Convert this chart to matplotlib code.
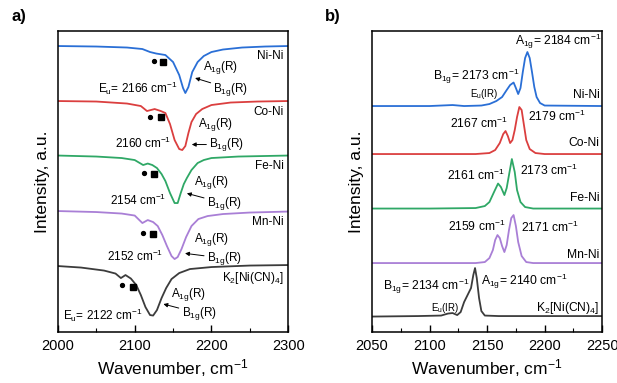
import matplotlib
matplotlib.use('Agg')
import matplotlib.pyplot as plt
import numpy as np

plt.rcParams['font.family'] = ['Liberation Sans', 'DejaVu Sans']
plt.rcParams['mathtext.fontset'] = 'custom'
plt.rcParams['mathtext.rm'] = 'Liberation Sans'
plt.rcParams['mathtext.default'] = 'regular'

colors_map = {
    'Ni-Ni': '#2a6fd6',
    'Co-Ni': '#db3f3f',
    'Fe-Ni': '#2fa866',
    'Mn-Ni': '#a97fd6',
    'K2': '#3c3c3c',
}

# ---- panel a) IR spectra (stacked, a.u.) ----
ir_ni_wn = [2000, 2050, 2090, 2110, 2120, 2128, 2140, 2150, 2158, 2163, 2166, 2170, 2175, 2182, 2190, 2200, 2215, 2240, 2270, 2300]
ir_ni = [285, 284.5, 283.5, 282, 279, 277.5, 276, 269, 256, 243, 238, 244, 259, 269, 275, 279, 281.5, 283.5, 284.5, 285]

ir_co_wn = [2000, 2050, 2090, 2108, 2116, 2121, 2126, 2134, 2140, 2146, 2152, 2158, 2162, 2166, 2170, 2174, 2180, 2188, 2200, 2225, 2260, 2300]
ir_co = [230, 229.5, 227.5, 225, 220, 221, 222, 220, 218, 207, 191, 182, 181, 185, 198, 209, 217, 222, 226, 228.5, 229.5, 230]

ir_fe_wn = [2000, 2050, 2083, 2100, 2111, 2117, 2123, 2129, 2135, 2140, 2146, 2152, 2156, 2160, 2164, 2168, 2174, 2182, 2190, 2200, 2235, 2300]
ir_fe = [175.5, 174.5, 173, 171, 166, 167.5, 166, 163, 157, 150, 138, 128, 128, 138, 147, 153, 161, 168, 171, 173, 174.5, 175.5]

ir_mn_wn = [2000, 2050, 2083, 2100, 2110, 2117, 2124, 2130, 2136, 2142, 2148, 2152, 2156, 2161, 2167, 2174, 2183, 2195, 2215, 2250, 2300]
ir_mn = [120, 119, 117.5, 115.5, 108, 111, 109, 105, 96, 85, 75, 72, 74, 82, 94, 105, 112, 115, 117, 118.5, 119.5]

ir_k_wn = [2000, 2030, 2060, 2075, 2082, 2088, 2095, 2102, 2108, 2114, 2120, 2124, 2129, 2135, 2141, 2148, 2158, 2172, 2200, 2250, 2300]
ir_k = [65, 63.5, 60.5, 57.5, 53, 56, 52.5, 46, 36, 24, 16, 15.5, 21, 33, 43, 52, 58, 62, 64, 65.5, 66]

# ---- panel b) Raman spectra (stacked, a.u.) ----
ra_ni_wn = [2050, 2100, 2120, 2130, 2145, 2152, 2158, 2163, 2167, 2170, 2173, 2175, 2177, 2179, 2181, 2183, 2185, 2187, 2189, 2191, 2193, 2196, 2200, 2250]
ra_ni = [225, 225, 226, 225, 225.5, 227, 230, 234, 241, 246, 248.5, 243, 237, 243, 259, 273, 279, 273, 259, 244, 234, 228, 225.5, 225]

ra_co_wn = [2050, 2100, 2140, 2152, 2157, 2161, 2164, 2166, 2168, 2170, 2172, 2174, 2176, 2178, 2180, 2182, 2184, 2187, 2192, 2200, 2250]
ra_co = [177, 177, 177, 178, 181, 188, 197, 200, 195, 188, 191, 201, 214, 224, 221, 206, 191, 182, 178, 177, 177]

ra_fe_wn = [2050, 2100, 2140, 2148, 2152, 2156, 2159.5, 2162, 2165, 2167, 2169, 2171.5, 2174, 2176, 2179, 2183, 2190, 2250]
ra_fe = [122.5, 122.5, 123, 125, 129, 139, 147.5, 144, 136, 143, 156, 172, 159, 141, 129, 124, 122.5, 122.5]

ra_mn_wn = [2050, 2100, 2140, 2148, 2152, 2155, 2157, 2159, 2161, 2163, 2165, 2167, 2169, 2171, 2173, 2175, 2177, 2180, 2184, 2190, 2250]
ra_mn = [68, 68, 68, 69, 73, 81, 91, 96, 93, 85, 79, 86, 101, 113, 116, 105, 89, 75, 69, 68, 68]

ra_k_wn = [2050, 2090, 2110, 2116, 2120, 2124, 2127, 2130, 2133, 2136, 2138, 2139.5, 2141, 2143, 2145, 2148, 2160, 2250]
ra_k = [14.5, 15, 15.5, 17.5, 18, 16, 19, 29, 36, 43, 56, 63, 53, 33, 20, 15.5, 15, 15]

fig = plt.figure(figsize=(6.17, 3.83), dpi=100)
ax1 = fig.add_axes([0.094, 0.133, 0.373, 0.786])
ax2 = fig.add_axes([0.603, 0.133, 0.373, 0.786])

lw = 1.3
ax1.plot(ir_ni_wn, ir_ni, color=colors_map['Ni-Ni'], lw=lw)
ax1.plot(ir_co_wn, ir_co, color=colors_map['Co-Ni'], lw=lw)
ax1.plot(ir_fe_wn, ir_fe, color=colors_map['Fe-Ni'], lw=lw)
ax1.plot(ir_mn_wn, ir_mn, color=colors_map['Mn-Ni'], lw=lw)
ax1.plot(ir_k_wn, ir_k, color=colors_map['K2'], lw=lw)

ax2.plot(ra_ni_wn, ra_ni, color=colors_map['Ni-Ni'], lw=lw)
ax2.plot(ra_co_wn, ra_co, color=colors_map['Co-Ni'], lw=lw)
ax2.plot(ra_fe_wn, ra_fe, color=colors_map['Fe-Ni'], lw=lw)
ax2.plot(ra_mn_wn, ra_mn, color=colors_map['Mn-Ni'], lw=lw)
ax2.plot(ra_k_wn, ra_k, color=colors_map['K2'], lw=lw)

for ax, lo, hi, major, minor in [(ax1, 2000, 2300, 100, 50), (ax2, 2050, 2250, 50, 25)]:
    ax.set_xlim(lo, hi)
    ax.set_ylim(-1, 300)
    ax.set_xticks(np.arange(lo, hi + 1, major))
    ax.set_xticks(np.arange(lo, hi + 1, minor), minor=True)
    ax.set_yticks([])
    ax.tick_params(axis='x', which='major', direction='in', length=5, width=1, labelsize=10.5, pad=5)
    ax.tick_params(axis='x', which='minor', direction='in', length=3, width=0.8)
    for s in ax.spines.values():
        s.set_linewidth(1.1)
    ax.set_xlabel('Wavenumber, cm$^{-1}$', fontsize=12.5, labelpad=3)
    ax.set_ylabel('Intensity, a.u.', fontsize=12.5, labelpad=6)

fig.text(0.018, 0.945, 'a)', fontsize=12, fontweight='bold')
fig.text(0.527, 0.945, 'b)', fontsize=12, fontweight='bold')

fs = 8.5
arrow = dict(arrowstyle='-|>', lw=0.7, color='black', mutation_scale=6, shrinkA=0, shrinkB=0)

# panel a) labels
right_labels = [(275, 'Ni-Ni'), (219, 'Co-Ni'), (165, 'Fe-Ni'), (109, 'Mn-Ni'), (53, 'K$_2$[Ni(CN)$_4$]')]
for y, t in right_labels:
    ax1.text(2294, y, t, fontsize=fs, ha='right', va='center')

dots = [(2125, 270), (2120, 213.7), (2112.6, 157.7), (2111, 97.7), (2083, 46)]
squares = [(2137, 269), (2134, 213.7), (2125.6, 157), (2124.3, 97), (2097.4, 44.3)]
for (dx, dy), (sx, sy) in zip(dots, squares):
    ax1.plot(dx, dy, 'o', color='black', ms=2.8)
    ax1.plot(sx, sy, 's', color='black', ms=3.8)

a1g = [(2189.5, 264), (2183, 206.7), (2177.8, 148.7), (2177.8, 91.7), (2147.4, 37)]
for x, y in a1g:
    ax1.text(x, y, 'A$_{1g}$(R)', fontsize=fs, ha='left', va='center')

b1g = [((2202.6, 242), (2178.7, 253)), ((2197, 186.5), (2174.4, 186.5)),
       ((2194, 127.7), (2168, 137.7)), ((2194, 72.7), (2165.6, 77.7)), ((2161, 17.7), (2137.4, 27))]
for (tx, ty), (hx, hy) in b1g:
    ax1.annotate('B$_{1g}$(R)', xy=(hx, hy), xytext=(tx, ty), fontsize=fs,
                 ha='left', va='center', arrowprops=arrow)

ax1.text(2052.6, 242.7, 'E$_u$= 2166 cm$^{-1}$', fontsize=fs, ha='left', va='center')
ax1.text(2074.3, 187.7, '2160 cm$^{-1}$', fontsize=fs, ha='left', va='center')
ax1.text(2068, 131, '2154 cm$^{-1}$', fontsize=fs, ha='left', va='center')
ax1.text(2063.5, 74.3, '2152 cm$^{-1}$', fontsize=fs, ha='left', va='center')
ax1.text(2007, 16, 'E$_u$= 2122 cm$^{-1}$', fontsize=fs, ha='left', va='center')

# panel b) labels
fs2 = 8.7
for y, t in [(236, 'Ni-Ni'), (187.7, 'Co-Ni'), (132.7, 'Fe-Ni'), (76, 'Mn-Ni'), (22.7, 'K$_2$[Ni(CN)$_4$]')]:
    ax2.text(2247.5, y, t, fontsize=fs2, ha='right', va='center')

ax2.text(2174, 289.3, 'A$_{1g}$= 2184 cm$^{-1}$', fontsize=fs2, ha='left', va='center')
ax2.text(2103, 254.3, 'B$_{1g}$= 2173 cm$^{-1}$', fontsize=fs2, ha='left', va='center')
ax2.text(2135, 236.7, 'E$_u$(IR)', fontsize=7, ha='left', va='center')
ax2.text(2117.6, 207.7, '2167 cm$^{-1}$', fontsize=fs2, ha='left', va='center')
ax2.text(2185.7, 214.3, '2179 cm$^{-1}$', fontsize=fs2, ha='left', va='center')
ax2.text(2115.5, 156, '2161 cm$^{-1}$', fontsize=fs2, ha='left', va='center')
ax2.text(2178.4, 161, '2173 cm$^{-1}$', fontsize=fs2, ha='left', va='center')
ax2.text(2116, 104.3, '2159 cm$^{-1}$', fontsize=fs2, ha='left', va='center')
ax2.text(2179.3, 103.3, '2171 cm$^{-1}$', fontsize=fs2, ha='left', va='center')
ax2.text(2059.6, 44.3, 'B$_{1g}$= 2134 cm$^{-1}$', fontsize=fs2, ha='left', va='center')
ax2.text(2145, 50, 'A$_{1g}$= 2140 cm$^{-1}$', fontsize=fs2, ha='left', va='center')
ax2.text(2101.6, 22.7, 'E$_u$(IR)', fontsize=7, ha='left', va='center')

fig.savefig('out.png', dpi=100)
